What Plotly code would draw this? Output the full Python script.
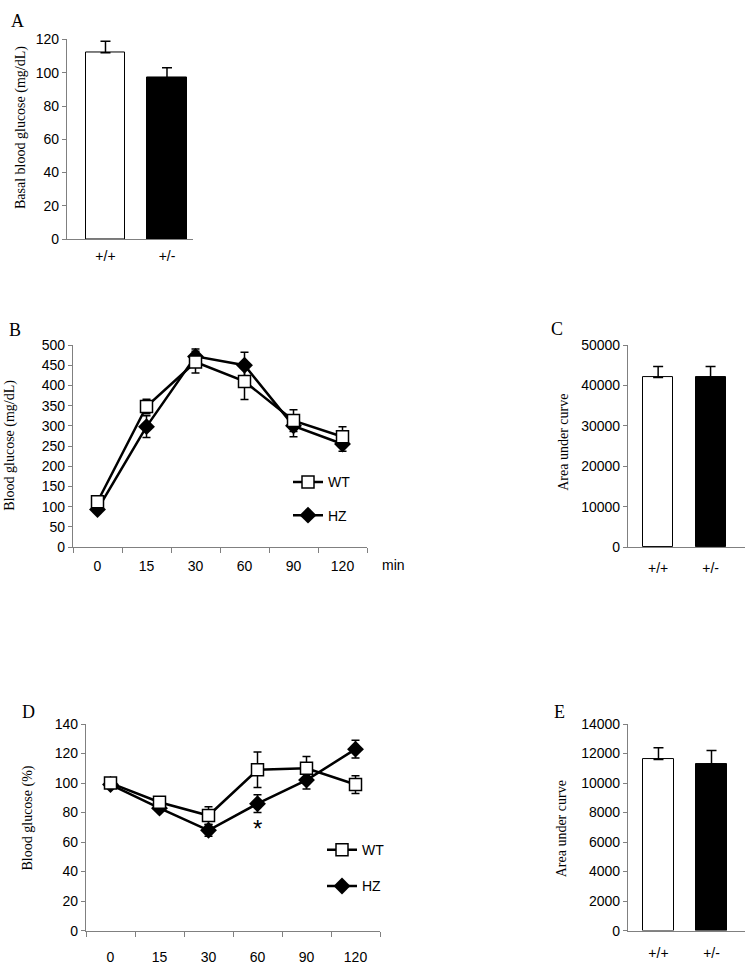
import plotly.graph_objects as go

# ---------------- data ----------------
bar_groups = ["+/+", "+/-"]
time_points = ["0", "15", "30", "60", "90", "120"]

a_basal = [112, 97]
a_basal_err = [7, 6]

b_wt = [112, 348, 458, 410, 313, 273]
b_wt_err = [8, 18, 27, 45, 27, 25]
b_hz = [93, 298, 472, 450, 300, 255]
b_hz_err = [6, 27, 18, 32, 27, 18]

c_auc = [42000, 42000]
c_auc_err = [2700, 2700]

d_wt = [100, 87, 78, 109, 110, 99]
d_wt_err = [3, 3, 6, 12, 8, 6]
d_hz = [99, 83, 68, 86, 102, 123]
d_hz_err = [2, 2, 4, 6, 6, 6]

e_auc = [11600, 11300]
e_auc_err = [800, 900]

bar_colors = ["white", "black"]
star_time = "60"
star_value = 74

# ---------------- styles ----------------
W, H = 755, 975
SANS = "Liberation Sans, Arial, sans-serif"
SERIF = "Liberation Serif, Times New Roman, serif"
AXC = "#808080"


def fx(p):
    return p / W


def fy(p):
    return 1 - p / H


fig = go.Figure()


def add_bar(x_ax, y_ax, vals, errs, width):
    fig.add_trace(go.Bar(
        x=bar_groups, y=vals, width=width,
        marker=dict(color=bar_colors, line=dict(color="black", width=1)),
        error_y=dict(type="data", array=errs, arrayminus=[0] * len(errs),
                     symmetric=False, color="black", thickness=1.5, width=5),
        xaxis=x_ax, yaxis=y_ax, showlegend=False))


def add_lines(x_ax, y_ax, wt, wt_err, hz, hz_err, legend):
    fig.add_trace(go.Scatter(
        x=time_points, y=hz, name="HZ", mode="lines+markers",
        line=dict(color="black", width=2.5),
        marker=dict(symbol="diamond", size=13, color="black"),
        error_y=dict(type="data", array=hz_err, color="black", thickness=1.5, width=4),
        xaxis=x_ax, yaxis=y_ax, legend=legend, legendgroup=legend + "hz",
        legendrank=2))
    fig.add_trace(go.Scatter(
        x=time_points, y=wt, name="WT", mode="lines+markers",
        line=dict(color="black", width=2.5),
        marker=dict(symbol="square", size=12, color="white",
                    line=dict(color="black", width=1.5)),
        error_y=dict(type="data", array=wt_err, color="black", thickness=1.5, width=4),
        xaxis=x_ax, yaxis=y_ax, legend=legend, legendgroup=legend + "wt",
        legendrank=1))


add_bar("x", "y", a_basal, a_basal_err, 0.64)
add_lines("x2", "y2", b_wt, b_wt_err, b_hz, b_hz_err, "legend")
add_bar("x3", "y3", c_auc, c_auc_err, 0.57)
add_lines("x4", "y4", d_wt, d_wt_err, d_hz, d_hz_err, "legend2")
add_bar("x5", "y5", e_auc, e_auc_err, 0.58)

tickfont = dict(family=SANS, size=14, color="black")


def xcat(dom, rng, standoff, boundaries=False):
    d = dict(domain=[fx(dom[0]), fx(dom[1])], type="category", range=rng,
             showline=True, linecolor=AXC, linewidth=1.2, tickfont=tickfont,
             showgrid=False, zeroline=False, fixedrange=True,
             ticklabelstandoff=standoff)
    if boundaries:
        d.update(ticks="outside", tickson="boundaries", ticklen=5,
                 tickcolor=AXC, tickwidth=1.2)
    else:
        d.update(ticks="", ticklen=0)
    return d


def yax(dom, rng, dtick, anchor):
    return dict(domain=[fy(dom[1]), fy(dom[0])], range=rng, dtick=dtick,
                tickformat="d",
                showline=True, linecolor=AXC, linewidth=1.2, ticks="outside",
                ticklen=4, tickcolor=AXC, tickwidth=1.2, tickfont=tickfont,
                showgrid=False, zeroline=False, anchor=anchor, fixedrange=True)


layout = dict(
    width=W, height=H, margin=dict(l=0, r=0, t=0, b=0),
    paper_bgcolor="white", plot_bgcolor="white", bargap=0,
    xaxis=dict(xcat((67, 193), [-0.626, 1.423], 4), anchor="y"),
    yaxis=yax((32, 235), [0, 120], 20, "x"),
    xaxis2=dict(xcat((73, 367), [-0.5, 5.5], 6, True), anchor="y2"),
    yaxis2=yax((342.7, 548), [0, 500], 50, "x2"),
    xaxis3=dict(xcat((628, 745), [-0.575, 1.657], 8), anchor="y3"),
    yaxis3=yax((342.7, 548), [0, 50000], 10000, "x3"),
    xaxis4=dict(xcat((86, 380), [-0.5, 5.5], 13, True), anchor="y4"),
    yaxis4=yax((728, 938), [0, 140], 20, "x4"),
    xaxis5=dict(xcat((628, 745), [-0.575, 1.632], 9), anchor="y5"),
    yaxis5=yax((728, 938), [0, 14000], 2000, "x5"),
    legend=dict(x=fx(288), y=fy(466), xanchor="left", yanchor="top",
                font=dict(family=SANS, size=14, color="black"),
                bgcolor="rgba(0,0,0,0)", tracegroupgap=12, traceorder="grouped"),
    legend2=dict(x=fx(322), y=fy(840), xanchor="left", yanchor="top",
                 font=dict(family=SANS, size=14, color="black"),
                 bgcolor="rgba(0,0,0,0)", tracegroupgap=15, traceorder="grouped"),
)
fig.update_layout(**layout)

# panel letters
for letter, (px, py) in {"A": (17, 13), "B": (15, 327), "C": (557, 326),
                         "D": (28, 716), "E": (559, 716)}.items():
    fig.add_annotation(text=letter, x=fx(px), y=fy(py), xref="paper", yref="paper",
                       showarrow=False, xanchor="center", yanchor="middle",
                       font=dict(family=SERIF, size=18, color="black"))

# y-axis titles
for label, (px, py) in {"Basal blood glucose (mg/dL)": (21, 122),
                        "Blood glucose (mg/dL)": (10, 445),
                        "Area under curve": (564, 442),
                        "Blood glucose (%)": (28, 824),
                        "Area under curve ": (561, 835)}.items():
    fig.add_annotation(text=label.strip(), x=fx(px), y=fy(py), xref="paper", yref="paper",
                       showarrow=False, textangle=-90, xanchor="center", yanchor="middle",
                       font=dict(family=SERIF, size=14, color="black"))

# "min" unit label
fig.add_annotation(text="min", x=fx(393), y=fy(566), xref="paper", yref="paper",
                   showarrow=False, xanchor="center", yanchor="middle",
                   font=dict(family=SANS, size=14, color="black"))

# significance asterisk
fig.add_annotation(text="*", x=time_points.index(star_time), y=star_value,
                   xref="x4", yref="y4", showarrow=False, yshift=-7,
                   xanchor="center", yanchor="middle",
                   font=dict(family=SANS, size=24, color="black"))

fig.write_html("out.html", config={"displayModeBar": False},
               post_script="document.body.style.margin='0';")
